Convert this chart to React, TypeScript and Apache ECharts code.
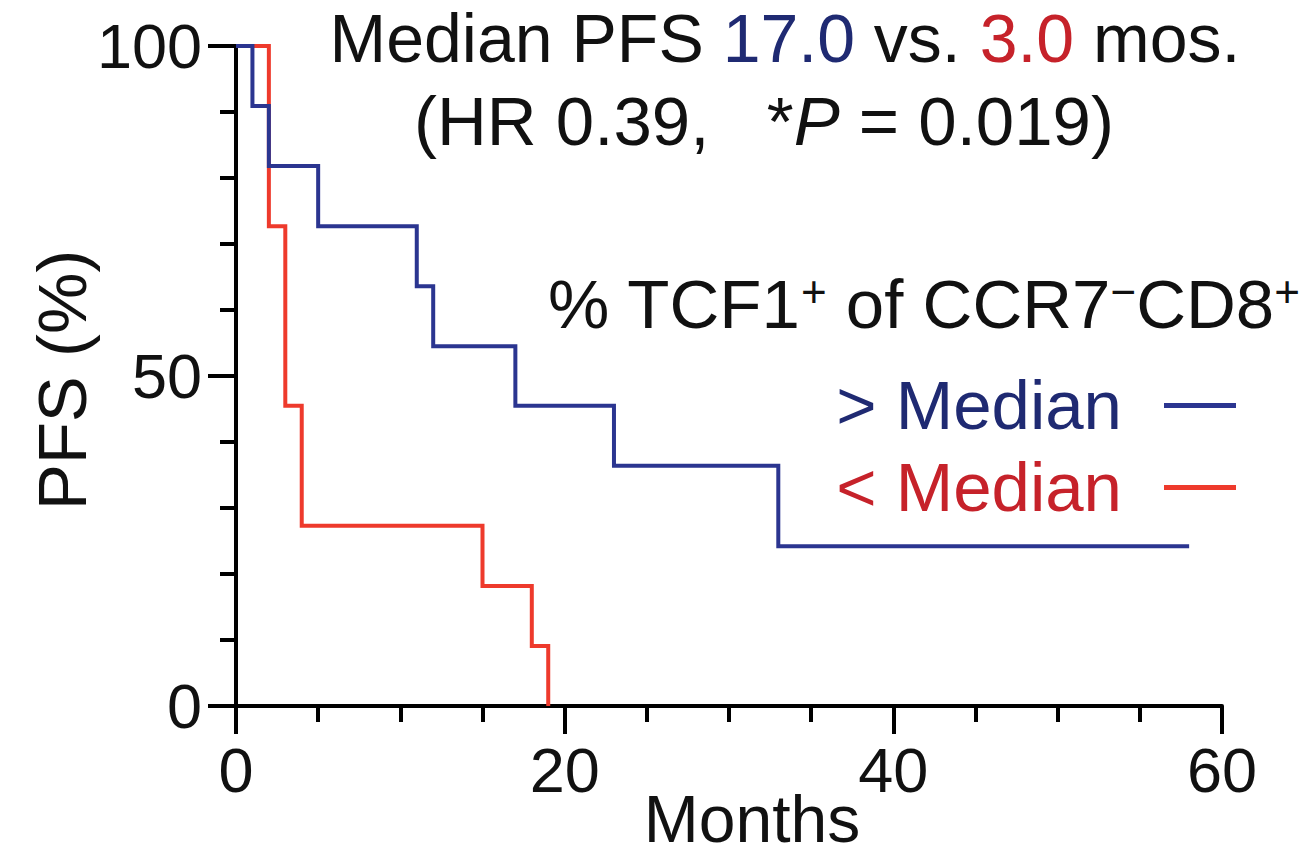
import React, { useEffect, useRef } from "react";
import * as echarts from "echarts";

const FONT = "'Liberation Sans', Arial, Helvetica, sans-serif";

// Kaplan–Meier steps (months, % PFS)
const highName = "> Median";
const highTimes = [0, 1, 2, 5, 11, 12, 17, 23, 33, 58];
const highSurv = [100, 90.9, 81.8, 72.7, 63.6, 54.5, 45.5, 36.4, 24.2, 24.2];

const lowName = "< Median";
const lowTimes = [0, 2, 3, 4, 15, 18, 19];
const lowSurv = [100, 72.7, 45.5, 27.3, 18.2, 9.1, 0];

const xTicks = [0, 20, 40, 60];
const yTicks = [0, 50, 100];

const BLUE = "#2b3590";
const RED = "#ee3a2c";
const BLUE_TXT = "#1f2a72";
const RED_TXT = "#c6222a";

export default function App() {
  const ref = useRef<HTMLDivElement>(null);

  useEffect(() => {
    if (!ref.current) return;
    const chart = echarts.init(ref.current, undefined, { renderer: "svg" });
    const pair = (t: number[], s: number[]) => t.map((v, i) => [v, s[i]]);

    const axisCommon = {
      type: "value" as const,
      axisLine: { show: true, lineStyle: { color: "#000", width: 4 } },
      axisTick: { show: true, length: 28, lineStyle: { color: "#000", width: 4 } },
      splitLine: { show: false },
      minorSplitLine: { show: false },
      axisLabel: { fontSize: 63, color: "#111", fontFamily: FONT },
    };

    const centered = {
      fontFamily: FONT,
      fill: "#111",
      textAlign: "center",
      textVerticalAlign: "middle",
      align: "center",
      verticalAlign: "middle",
    };

    chart.setOption({
      animation: false,
      backgroundColor: "#fff",
      grid: { left: 236, right: 88, top: 46, bottom: 149, containLabel: false },
      xAxis: {
        ...axisCommon,
        min: xTicks[0],
        max: xTicks[xTicks.length - 1],
        interval: 20,
        minorTick: { show: true, splitNumber: 4, length: 16, lineStyle: { color: "#000", width: 4 } },
        axisLabel: { ...axisCommon.axisLabel, margin: 32 },
      },
      yAxis: {
        ...axisCommon,
        min: yTicks[0],
        max: yTicks[yTicks.length - 1],
        interval: 50,
        minorTick: { show: true, splitNumber: 5, length: 16, lineStyle: { color: "#000", width: 4 } },
        axisLabel: { ...axisCommon.axisLabel, margin: 34 },
      },
      legend: {
        orient: "vertical",
        right: 69,
        top: 366,
        align: "right",
        icon: "rect",
        itemWidth: 72,
        itemHeight: 5,
        itemGap: 13,
        textStyle: { fontSize: 69, fontFamily: FONT, lineHeight: 68, padding: [0, 37, 0, 0] },
        data: [
          { name: highName, textStyle: { color: BLUE_TXT } },
          { name: lowName, textStyle: { color: RED_TXT } },
        ],
      },
      series: [
        {
          name: lowName,
          type: "line",
          step: "end",
          symbol: "none",
          clip: false,
          color: RED,
          lineStyle: { color: RED, width: 4, join: "miter" },
          data: pair(lowTimes, lowSurv),
          z: 2,
        },
        {
          name: highName,
          type: "line",
          step: "end",
          symbol: "none",
          clip: false,
          color: BLUE,
          lineStyle: { color: BLUE, width: 4, join: "miter" },
          data: pair(highTimes, highSurv),
          z: 3,
        },
      ],
      graphic: [
        {
          type: "text",
          x: 785,
          y: 38,
          style: {
            ...centered,
            text: "Median PFS {b|17.0} vs. {r|3.0} mos.",
            fontSize: 68,
            rich: {
              b: { fill: BLUE_TXT, color: BLUE_TXT, fontSize: 68, fontFamily: FONT },
              r: { fill: RED_TXT, color: RED_TXT, fontSize: 68, fontFamily: FONT },
            },
          },
        },
        {
          type: "text",
          x: 764,
          y: 121,
          style: {
            ...centered,
            text: "(HR 0.39,   *{i|P} = 0.019)",
            fontSize: 69,
            rich: {
              i: { fontStyle: "italic", fontSize: 69, fontFamily: FONT, fill: "#111" },
            },
          },
        },
        {
          type: "text",
          x: 548,
          y: 304,
          style: {
            text: "% TCF1{s|+} of CCR7{s|−}CD8{s|+}",
            fontSize: 69,
            fontFamily: FONT,
            fill: "#111",
            textAlign: "left",
            textVerticalAlign: "middle",
            align: "left",
            verticalAlign: "middle",
            rich: {
              s: { fontSize: 44, fontFamily: FONT, fill: "#111", verticalAlign: "top", lineHeight: 69 },
            },
          },
        },
        {
          type: "text",
          x: 752,
          y: 819,
          style: { ...centered, text: "Months", fontSize: 66 },
        },
        {
          type: "text",
          x: 62,
          y: 380,
          rotation: Math.PI / 2,
          style: { ...centered, text: "PFS (%)", fontSize: 69 },
        },
      ],
    });

    return () => chart.dispose();
  }, []);

  return (
    <div
      ref={ref}
      style={{ position: "fixed", left: 0, top: 0, width: 1310, height: 855, background: "#fff" }}
    />
  );
}
